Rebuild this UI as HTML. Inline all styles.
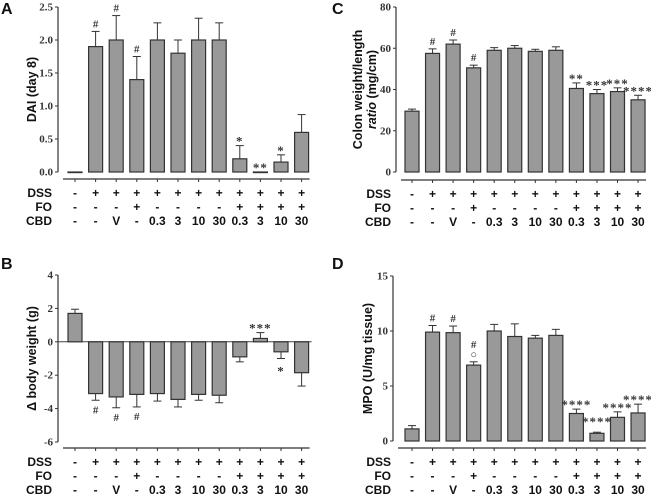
<!DOCTYPE html>
<html><head><meta charset="utf-8"><style>
body{margin:0;background:#fff}
svg{display:block}
.t{font-family:"Liberation Serif",serif;font-weight:bold;font-size:11px;fill:#333}
.s{font-family:"Liberation Sans",sans-serif;font-weight:bold;font-size:12px;fill:#111}
.p{font-family:"Liberation Sans",sans-serif;font-weight:bold;font-size:16px;fill:#111}
</style></head><body>
<svg id="fig" width="651" height="494" viewBox="0 0 651 494"></svg>
<script>
const dss=["-","+","+","+","+","+","+","+","+","+","+","+"];
const fo=["-","-","-","+","-","-","-","-","+","+","+","+"];
const cbd=["-","-","V","-","0.3","3","10","30","0.3","3","10","30"];
const aVals=[0,1.9,2.0,1.4,2.0,1.8,2.0,2.0,0.2,0,0.15,0.6];
const aErr=[0,0.23,0.37,0.35,0.26,0.2,0.33,0.26,0.2,0,0.11,0.27];
const aMarks=["","#","#","#","","","","","*","**","*",""];
const aTicks=["0.0","0.5","1.0","1.5","2.0","2.5"];
const bVals=[1.7,-3.1,-3.3,-3.15,-3.1,-3.45,-3.15,-3.2,-0.9,0.2,-0.6,-1.85];
const bErr=[0.25,0.4,0.65,0.75,0.45,0.45,0.35,0.45,0.3,0.35,0.4,0.8];
const bMarks=["","#","#","#","","","","","","***","*",""];
const bTicks=["-6","-4","-2","0","2","4"];
const cVals=[29.5,57.5,62,50.5,59,60,58.5,59,40.5,38,39,35];
const cErr=[1,2.2,2,1.3,1.3,1.3,1,1.7,2.7,2,1.8,2.2];
const cMarks=["","#","#","#","","","","","**","***","***","****"];
const cTicks=["0","20","40","60","80"];
const dVals=[1.1,9.9,9.85,6.9,10,9.5,9.35,9.6,2.5,0.7,2.15,2.55];
const dErr=[0.3,0.6,0.6,0.3,0.6,1.15,0.25,0.55,0.4,0.1,0.5,0.8];
const dMarks=["","#","#","#\n\u25CB","","","","","****","****","****","****"];
const dTicks=["0","5","10","15"];

const svg=document.getElementById('fig');
const NS="http://www.w3.org/2000/svg";
function mk(tag,attrs,parent){const e=document.createElementNS(NS,tag);for(const k in attrs)e.setAttribute(k,attrs[k]);(parent||svg).appendChild(e);return e;}
function txt(x,y,s,cls,anchor,parent){const e=mk('text',{x:x,y:y,class:cls,'text-anchor':anchor||'middle'},parent);e.textContent=s;return e;}

function panel(o){
  const g=mk('g',{});
  
  
  const y=v=>o.y0-(v-o.min)/(o.max-o.min)*(o.y0-o.y1);
  const x=i=>o.x0+i*o.dx;
  const ax=mk('line',{x1:o.ax,y1:o.y1,x2:o.ax,y2:o.y0,stroke:'#333','stroke-width':1.2},g);
  
  
  o.ticks.forEach(t=>{const v=parseFloat(t);const yy=y(v);
    mk('line',{x1:o.ax-3,y1:yy,x2:o.ax,y2:yy,stroke:'#333','stroke-width':1},g);
    const tl=txt(o.ax-5,yy+3.5,t,'t','end',g);
    
    
  });
  if(o.min<0){mk('line',{x1:o.ax,y1:y(0),x2:x(11)+10,y2:y(0),stroke:'#444','stroke-width':1},g);}
  o.vals.forEach((v,i)=>{
    const yv=y(v),yz=y(0),bw=14;
    const top=Math.min(yv,yz),h=Math.max(Math.abs(yv-yz),0.6);
    const r=mk('rect',{x:x(i)-bw/2,y:top,width:bw,height:h,fill:'#999',stroke:'#333','stroke-width':1.2},g);
    
    
    const dir=v>=0?1:-1;const e=o.err[i];
    if(e>0){const ye=y(v+dir*e);
      mk('line',{x1:x(i),y1:yv,x2:x(i),y2:ye,stroke:'#333','stroke-width':1},g);
      mk('line',{x1:x(i)-4,y1:ye,x2:x(i)+4,y2:ye,stroke:'#333','stroke-width':1},g);}
    const m=o.marks[i];
    if(m){const parts=m.split('\n');
      let base;
      if(o.id==='b'&&(v<0&&m!=='***')) base=y(v-e)+13;
      else base=y(v+dir*e)-4;
      if(o.id==='d'&&i===9) base=y(v+e)-10;
      parts.forEach((p,k)=>{
        const yy=base-(parts.length-1-k)*10;
        const isStar=p.includes('*');
        const t=txt(x(i),yy+(isStar?4:0),p,'t','middle',g);
        if(isStar)t.setAttribute('style','font-size:13px;letter-spacing:1px');
        
        
      });
    }
  });
  const xl=mk('line',{x1:o.ax+5,y1:o.xa,x2:x(11)+8,y2:o.xa,stroke:'#333','stroke-width':1.2},g);
  
  
  o.vals.forEach((v,i)=>mk('line',{x1:x(i),y1:o.xa,x2:x(i),y2:o.xa+3,stroke:'#333','stroke-width':1},g));
  [["DSS",dss],["FO",fo],["CBD",cbd]].forEach((r,k)=>{
    const yy=o.xa+18+k*14;
    const lb=txt(o.lx,yy,r[0],'s','end',g);
    
    
    r[1].forEach((s,i)=>txt(x(i),yy,s,'s','middle',g));
  });
  o.title.forEach((tt,k)=>{
    const yt=txt(0,0,'','s','middle',g);
    if(tt==='ratio (mg/cm)'){
      const a=mk('tspan',{'font-style':'italic'},yt);a.textContent='ratio';
      const b=mk('tspan',{},yt);b.textContent=' (mg/cm)';
    } else yt.textContent=tt;
    yt.setAttribute('transform','translate('+(o.tx+k*14)+','+((o.y0+o.y1)/2)+') rotate(-90)');
    yt.setAttribute('style','font-size:12.5px');
    
    
  });
  const pl=txt(o.px,o.py,o.id.toUpperCase(),'p','start',g);
  
  
}
panel({id:'a',vals:aVals,err:aErr,marks:aMarks,ticks:aTicks,min:0,max:2.5,y0:172,y1:7,ax:58,x0:75,dx:20.6,xa:179,lx:52,tx:36,title:["DAI (day 8)"],px:1,py:14});
panel({id:'b',vals:bVals,err:bErr,marks:bMarks,ticks:bTicks,min:-6,max:4,y0:442,y1:275,ax:58,x0:75,dx:20.6,xa:448,lx:52,tx:36,title:["\u0394 body weight (g)"],px:1,py:269});
panel({id:'c',vals:cVals,err:cErr,marks:cMarks,ticks:cTicks,min:0,max:80,y0:172,y1:7,ax:396,x0:412,dx:20.55,xa:180,lx:391,tx:362,title:["Colon weight/length","ratio (mg/cm)"],px:332,py:14});
panel({id:'d',vals:dVals,err:dErr,marks:dMarks,ticks:dTicks,min:0,max:15,y0:441,y1:276,ax:393,x0:412,dx:20.55,xa:448,lx:391,tx:372,title:["MPO (U/mg tissue)"],px:332,py:269});
</script>
</body></html>
